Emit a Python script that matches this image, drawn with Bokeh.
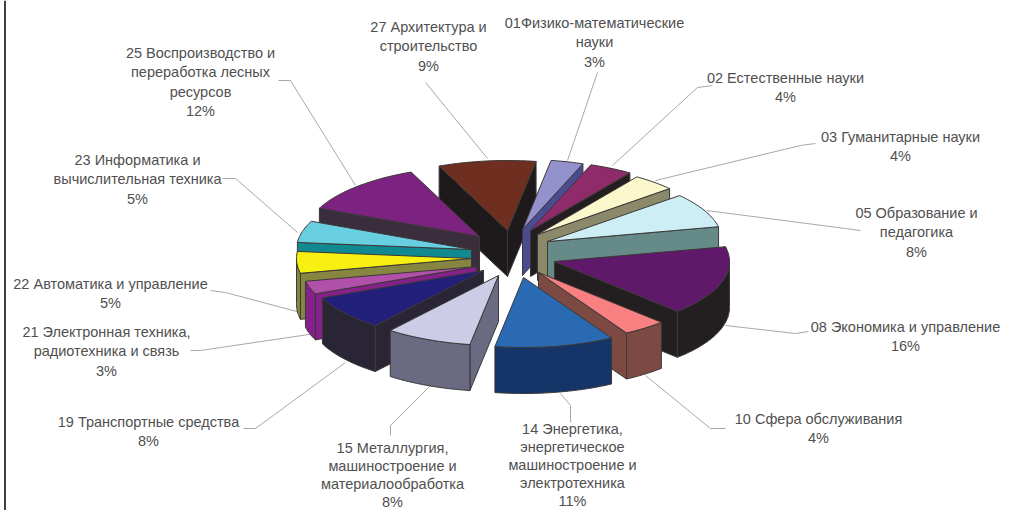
import math
from bokeh.plotting import figure
from bokeh.embed import file_html
from bokeh.resources import INLINE
from bokeh.core.properties import value

# ---- data
codes = ["01", "02", "03", "05", "08", "10", "14", "15", "19", "21", "22", "23", "25", "27"]
shares = [3, 4, 4, 8, 16, 4, 11, 8, 8, 3, 5, 5, 12, 9]
label_lines = [
    ["01Физико-математические", "науки", "3%"],
    ["02 Естественные науки", "4%"],
    ["03 Гуманитарные науки", "4%"],
    ["05 Образование и", "педагогика", "8%"],
    ["08 Экономика и управление", "16%"],
    ["10 Сфера обслуживания", "4%"],
    ["14 Энергетика,", "энергетическое", "машиностроение и", "электротехника", "11%"],
    ["15 Металлургия,", "машиностроение и", "материалообработка", "8%"],
    ["19 Транспортные средства", "8%"],
    ["21 Электронная техника,", "радиотехника и связь", "3%"],
    ["22 Автоматика и управление", "5%"],
    ["23 Информатика и", "вычислительная техника", "5%"],
    ["25 Воспроизводство и", "переработка лесных", "ресурсов", "12%"],
    ["27 Архитектура и", "строительство", "9%"],
]

# ---- layout and styles
W, H = 1018, 510
RX, RY, DEPTH = 175, 70, 46
START = 9.4
apex = {"01": (522, 229), "02": (530, 230), "03": (537, 234), "05": (547, 241), "08": (554, 261),
        "10": (538, 272), "14": (523, 277), "15": (498, 275), "19": (483, 270), "21": (476, 266),
        "22": (471, 258), "23": (471, 249), "25": (479, 236), "27": (507, 230)}
top_col = {"01": "#9492cc", "02": "#8f2a6b", "03": "#fbf8cc", "05": "#cdeef5", "08": "#60186a",
           "10": "#f98080", "14": "#2a6ab2", "15": "#cccce6", "19": "#22207a", "21": "#b050a8",
           "22": "#f8f010", "23": "#68cfe0", "25": "#7c2280", "27": "#6f2f20"}
wall_col = {"01": "#4b4b90", "02": "#231f20", "03": "#8a8a6a", "05": "#668a88", "08": "#231f20",
            "10": "#7c4a42", "14": "#153468", "15": "#6a6a82", "19": "#2a2535", "21": "#86208a",
            "22": "#868640", "23": "#108a90", "25": "#3a2d3c", "27": "#1e1a1c"}
order = ["27", "25", "23", "22", "21", "01", "02", "03", "05", "08", "19", "10", "15", "14"]
label_pos = {"01": (594, 22), "02": (785, 77), "03": (900, 136), "05": (916, 212), "08": (905, 326),
             "10": (818, 418), "14": (572, 428), "15": (392, 447), "19": (148, 421), "21": (106, 331),
             "22": (110, 283), "23": (137, 159), "25": (200, 52), "27": (428, 26)}
line_step = {"14": 18.2, "15": 18.0}
leaders = [
    ([425, 487], [82, 158]),
    ([597, 567], [72, 160]),
    ([712, 697, 612], [85, 87, 165]),
    ([815, 800, 655], [143, 145, 180]),
    ([860, 845, 706], [230, 228, 210]),
    ([808, 795, 725], [331, 333, 325]),
    ([725, 710, 645], [428, 428, 375]),
    ([570, 570, 560], [422, 405, 393]),
    ([390, 390, 430], [435, 425, 385]),
    ([243, 255, 345], [428, 428, 362]),
    ([190, 200, 315], [350, 350, 333]),
    ([210, 225, 300], [290, 292, 312]),
    ([222, 235, 297], [178, 178, 232]),
    ([278, 290, 355], [80, 80, 185]),
]
LINE_STEP = 19.5
EDGE = "#3c3838"

p = figure(width=W, height=H, x_range=(0, W), y_range=(H, 0), toolbar_location=None,
           output_backend="svg", min_border=0, outline_line_color=None)
p.axis.visible = False
p.grid.visible = False

# frame line at the left of the scan
p.line([4.5, 4.5], [0, H], line_color="#111111", line_width=1.6)

for xs, ys in leaders:
    p.line(xs, ys, line_color="#a8a8a8", line_width=1)

angles = {}
a = START
for c, s in zip(codes, shares):
    angles[c] = (a, a + s * 3.6)
    a += s * 3.6

def pt(c, deg):
    ax, ay = apex[c]
    r = math.radians(deg)
    return ax + RX * math.sin(r), ay - RY * math.cos(r)

def face(xs, ys, col):
    p.patch(xs, ys, fill_color=col, line_color=EDGE, line_width=1)

for c in order:
    a0, a1 = angles[c]
    ax, ay = apex[c]
    n = max(4, int(a1 - a0))
    arc = [pt(c, a0 + (a1 - a0) * i / n) for i in range(n + 1)]
    wc = wall_col[c]
    # end side, start side, outer wall: only the faces turned to the viewer
    if math.cos(math.radians(a0 - 90)) < 0:
        x0, y0 = arc[0]
        face([ax, x0, x0, ax], [ay, y0, y0 + DEPTH, ay + DEPTH], wc)
    if math.cos(math.radians(a1 + 90)) < 0:
        x1, y1 = arc[-1]
        face([ax, x1, x1, ax], [ay, y1, y1 + DEPTH, ay + DEPTH], wc)
    front = [q for q, deg in zip(arc, [a0 + (a1 - a0) * i / n for i in range(n + 1)])
             if math.cos(math.radians(deg)) <= 0.02]
    if len(front) >= 2:
        face([q[0] for q in front] + [q[0] for q in reversed(front)],
             [q[1] for q in front] + [q[1] + DEPTH for q in reversed(front)], wc)
    face([ax] + [q[0] for q in arc], [ay] + [q[1] for q in arc], top_col[c])

for c, lines in zip(codes, label_lines):
    lx, ly = label_pos[c]
    step = line_step.get(c, LINE_STEP)
    p.text([lx] * len(lines), [ly + i * step for i in range(len(lines))], text=lines,
           text_font=value("Liberation Sans"), text_font_size="14.5px", text_color="#505050",
           text_align="center", text_baseline="middle")

open("out.html", "w").write(file_html(p, INLINE))
